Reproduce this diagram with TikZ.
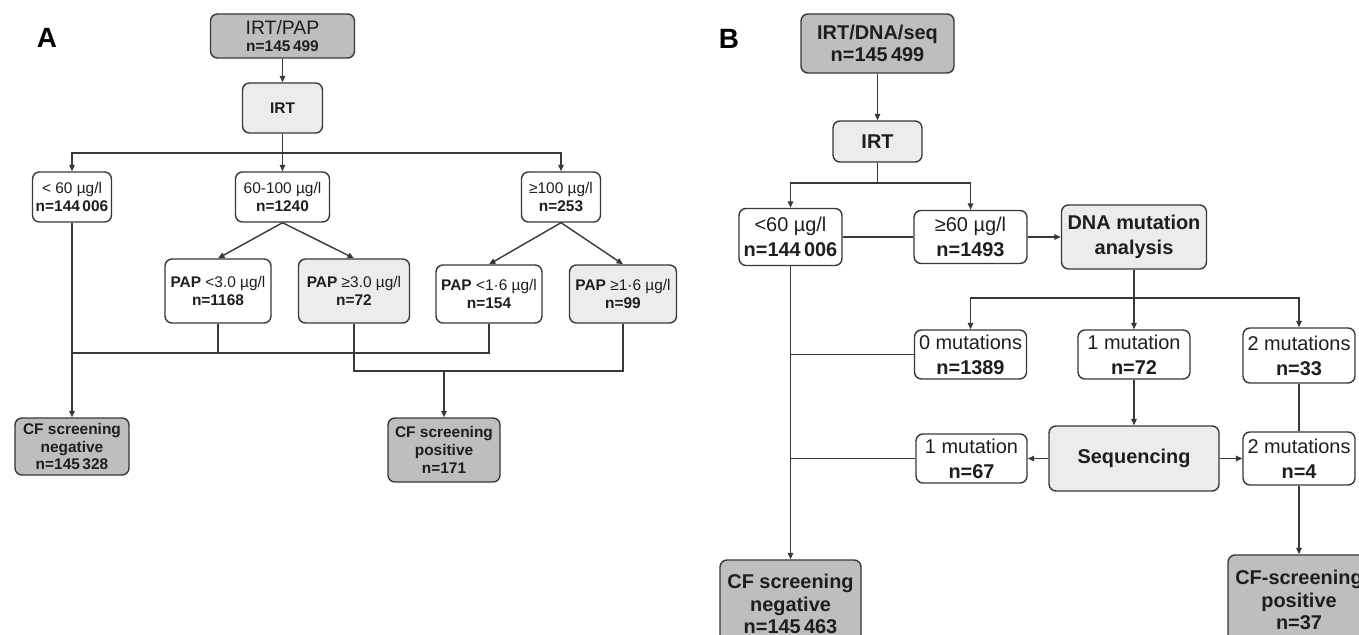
\documentclass[tikz,border=0pt]{standalone}
\usepackage{fontspec}
\setmainfont{Liberation Sans}
\usetikzlibrary{arrows.meta}
\definecolor{darkfill}{HTML}{BEBEBE}
\definecolor{lightfill}{HTML}{ECECEC}
\definecolor{bordercol}{HTML}{383838}
\definecolor{textcol}{HTML}{1E1E1E}
\tikzset{
  box/.style={draw=bordercol, line width=1.4bp, rounded corners=7bp, fill=white,
    align=center, inner sep=0pt, text=textcol},
  darkbox/.style={box, fill=darkfill},
  lightbox/.style={box, fill=lightfill},
  fa/.style={font=\fontsize{15.5}{18}\selectfont},
  fab/.style={font=\fontsize{15.5}{18}\selectfont\bfseries},
  fb/.style={font=\fontsize{20}{25}\selectfont},
  fbb/.style={font=\fontsize{20}{25}\selectfont\bfseries},
  fbc/.style={font=\fontsize{20}{22.5}\selectfont\bfseries},
  conn/.style={draw=bordercol, line width=1.4bp},
  arr/.style={conn, -{Triangle[length=6.5bp,width=5.5bp]}},
  panellabel/.style={font=\fontsize{28}{30}\selectfont\bfseries, text=black, inner sep=0pt}
}
\begin{document}
\begin{tikzpicture}[x=1bp,y=-1bp]
\useasboundingbox (0,0) rectangle (1359,635);
\clip (0,0) rectangle (1359,635);
\fill[white] (0,0) rectangle (1359,635);

% ---------------- Panel A ----------------
\node[panellabel] (labA) at (47,38) {A};
\node[darkbox, font=\fontsize{15.5}{17.5}\selectfont, minimum width=144bp, minimum height=44bp] (a0) at (282.5,36)
  {{\fontsize{19.5}{17.5}\selectfont IRT/PAP}\\\textbf{n=145\,499}};
\node[lightbox, fab, minimum width=80bp, minimum height=50bp] (a1) at (282.5,108) {IRT};
\node[box, fa, minimum width=79bp, minimum height=50bp] (a2) at (72,197) {< 60 µg/l\\\textbf{n=144\,006}};
\node[box, fa, minimum width=94bp, minimum height=50bp] (a3) at (282.5,197) {60-100 µg/l\\\textbf{n=1240}};
\node[box, fa, minimum width=79bp, minimum height=50bp] (a4) at (561,197) {≥100 µg/l\\\textbf{n=253}};
\node[box, fa, minimum width=106bp, minimum height=64bp] (a5) at (218,291) {\textbf{PAP} <3.0 µg/l\\\textbf{n=1168}};
\node[lightbox, fa, minimum width=111bp, minimum height=64bp] (a6) at (354,291) {\textbf{PAP} ≥3.0 µg/l\\\textbf{n=72}};
\node[box, fa, minimum width=106bp, minimum height=58bp] (a7) at (489,294) {\textbf{PAP} <1·6 µg/l\\\textbf{n=154}};
\node[lightbox, fa, minimum width=107bp, minimum height=58bp] (a8) at (623,294) {\textbf{PAP} ≥1·6 µg/l\\\textbf{n=99}};
\node[darkbox, fab, minimum width=114bp, minimum height=57bp] (a9) at (72,446.5) {CF screening\\negative\\n=145\,328};
\node[darkbox, fab, minimum width=112bp, minimum height=64bp] (a10) at (444,450) {CF screening\\positive\\n=171};

\coordinate (hA) at (282.5,153);
\coordinate (jA) at (72,353);
\coordinate (jB) at (444,371);

\draw[arr] (a0.south) -- (a1.north);
\draw[conn] (a1.south) -- (hA);
\draw[arr] (hA) -- (a3.north);
\draw[arr] (hA) -| (a2.north);
\draw[arr] (hA) -| (a4.north);
\draw[arr] (a3.south) -- (a5.north);
\draw[arr] (a3.south) -- (a6.north);
\draw[arr] (a4.south) -- (a7.north);
\draw[arr] (a4.south) -- (a8.north);
\draw[conn] (a5.south) |- (jA);
\draw[conn] (a7.south) |- (jA);
\draw[arr] (a2.south) -- (a9.north);
\draw[conn] (a6.south) |- (jB);
\draw[conn] (a8.south) |- (jB);
\draw[arr] (jB) -- (a10.north);

% ---------------- Panel B ----------------
\node[panellabel] (labB) at (729,39) {B};
\node[darkbox, fbc, minimum width=153bp, minimum height=59bp] (b0) at (877.5,43.5) {IRT/DNA/seq\\n=145\,499};
\node[lightbox, fbb, minimum width=89bp, minimum height=41bp] (b1) at (877.5,141.5) {IRT};
\node[box, fb, minimum width=103bp, minimum height=57bp] (b2) at (790.5,237) {<60 µg/l\\\textbf{n=144\,006}};
\node[box, fb, minimum width=113bp, minimum height=53bp] (b3) at (970.5,237) {≥60 µg/l\\\textbf{n=1493}};
\node[lightbox, fbb, minimum width=145bp, minimum height=64bp] (b4) at (1134,237) {DNA mutation\\analysis};
\node[box, fb, minimum width=112bp, minimum height=49bp] (b5) at (970.5,354.5) {0 mutations\\\textbf{n=1389}};
\node[box, fb, minimum width=112bp, minimum height=49bp] (b6) at (1134,354.5) {1 mutation\\\textbf{n=72}};
\node[box, fb, minimum width=112bp, minimum height=55bp] (b7) at (1299,355.5) {2 mutations\\\textbf{n=33}};
\node[lightbox, fbb, minimum width=170bp, minimum height=65bp] (b8) at (1134,458.5) {Sequencing};
\node[box, fb, minimum width=111bp, minimum height=49bp] (b9) at (971.5,458.5) {1 mutation\\\textbf{n=67}};
\node[box, fb, minimum width=112bp, minimum height=53bp] (b10) at (1299,458.5) {2 mutations\\\textbf{n=4}};
\node[darkbox, fbc, minimum width=141bp, minimum height=88bp] (b11) at (790.5,604) {CF screening\\negative\\n=145\,463};
\node[darkbox, fbc, minimum width=142bp, minimum height=90bp] (b12) at (1299,600) {CF-screening\\positive\\n=37};

\coordinate (hB) at (877.5,183);
\coordinate (hC) at (1134,298);

\draw[arr] (b0.south) -- (b1.north);
\draw[conn] (b1.south) -- (hB);
\draw[arr] (hB) -| (b2.north);
\draw[arr] (hB) -| (b3.north);
\draw[conn] (b2.east) -- (b3.west);
\draw[arr] (b3.east) -- (b4.west);
\draw[conn] (b4.south) -- (hC);
\draw[arr] (hC) -| (b5.north);
\draw[arr] (hC) -- (b6.north);
\draw[arr] (hC) -| (b7.north);
\draw[arr] (b2.south) -- (b11.north);
\draw[conn] (b5.west) -- (b5.west -| b2.south);
\draw[conn] (b9.west) -- (b9.west -| b2.south);
\draw[arr] (b6.south) -- (b8.north);
\draw[arr] (b8.west) -- (b9.east);
\draw[arr] (b8.east) -- (b10.west);
\draw[conn] (b7.south) -- (b10.north);
\draw[arr] (b10.south) -- (b12.north);
\end{tikzpicture}
\end{document}
